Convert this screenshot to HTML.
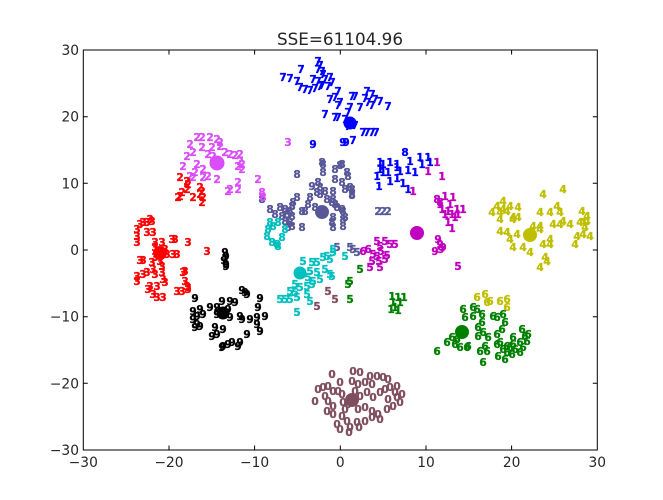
<!DOCTYPE html>
<html><head><meta charset="utf-8"><style>
html,body{margin:0;padding:0;background:#fff;}
svg{display:block;}
.t{font-family:"DejaVu Sans","Liberation Sans",sans-serif;}
.d text{font-family:"DejaVu Sans","Liberation Sans",sans-serif;font-weight:bold;font-size:10.5px;text-anchor:middle;dominant-baseline:central;stroke-width:0.35;}
.tk text{font-family:"DejaVu Sans","Liberation Sans",sans-serif;font-size:13.8px;fill:#262626;}
</style></head><body>
<svg width="663" height="500" viewBox="0 0 663 500" xmlns="http://www.w3.org/2000/svg">
<rect width="663" height="500" fill="#fff"/>
<text class="t" x="340" y="45" font-size="16.8" text-anchor="middle" fill="#262626">SSE=61104.96</text>

<!-- blue 7 / 1 -->
<g class="d" fill="#0000ff" stroke="#0000ff">
<circle cx="350" cy="123" r="6"/>
<text x="301" y="70">7</text><text x="318" y="62">7</text><text x="320" y="66">7</text><text x="318" y="70">7</text><text x="322" y="72">7</text><text x="323" y="75">7</text>
<text x="283" y="78">7</text><text x="290" y="79">7</text><text x="297" y="82">7</text><text x="300" y="88">7</text><text x="305" y="90">7</text><text x="310" y="91">7</text><text x="315" y="89">7</text><text x="320" y="87">7</text>
<text x="313" y="80">7</text><text x="318" y="82">7</text><text x="325" y="80">7</text><text x="330" y="78">7</text><text x="332" y="83">7</text><text x="328" y="87">7</text><text x="322" y="86">7</text>
<text x="338" y="92">7</text><text x="330" y="100">7</text><text x="335" y="98">7</text><text x="340" y="103">7</text><text x="338" y="106">7</text><text x="352" y="97">7</text><text x="355" y="97">7</text>
<text x="367" y="92">7</text><text x="372" y="95">7</text><text x="365" y="99">7</text><text x="375" y="100">7</text><text x="368" y="103">7</text><text x="380" y="102">7</text><text x="372" y="106">7</text><text x="388" y="107">7</text>
<text x="350" y="108">7</text><text x="360" y="108">7</text><text x="348" y="113">7</text><text x="325" y="115">7</text><text x="335" y="118">7</text><text x="338" y="118">7</text>
<text x="345" y="120">7</text><text x="355" y="126">7</text><text x="348" y="127">7</text>
<text x="363" y="133">7</text><text x="367" y="133">7</text><text x="372" y="133">7</text><text x="376" y="133">7</text>
<text x="313" y="145">9</text><text x="343" y="143">9</text><text x="346" y="143">9</text><text x="353" y="141">7</text>
<text x="405" y="153">8</text>
<text x="380" y="163">1</text><text x="390" y="163">1</text><text x="397" y="165">1</text><text x="410" y="162">1</text><text x="420" y="158">1</text><text x="428" y="158">1</text>
<text x="380" y="170">1</text><text x="383" y="173">1</text><text x="388" y="173">1</text><text x="397" y="168">1</text><text x="408" y="171">1</text><text x="415" y="173">1</text>
<text x="377" y="177">1</text><text x="390" y="182">1</text><text x="397" y="179">1</text><text x="403" y="184">1</text><text x="408" y="190">1</text><text x="379" y="187">1</text>
<text x="422" y="165">1</text><text x="430" y="163">1</text><text x="383" y="165">1</text><text x="400" y="172">1</text>
</g>

<!-- magenta -->
<g class="d" fill="#bf00bf" stroke="#bf00bf">
<circle cx="417" cy="233" r="6.5"/>
<text x="437" y="163">1</text><text x="428" y="172">1</text><text x="442" y="177">1</text><text x="413" y="192">1</text>
<text x="437" y="200">8</text><text x="445" y="197">1</text><text x="453" y="198">1</text><text x="440" y="205">1</text><text x="450" y="205">1</text><text x="442" y="210">1</text>
<text x="448" y="212">1</text><text x="457" y="210">1</text><text x="463" y="210">1</text><text x="445" y="215">1</text><text x="455" y="218">1</text><text x="448" y="223">1</text><text x="452" y="229">1</text>
<text x="440" y="203">8</text><text x="452" y="215">1</text><text x="458" y="215">1</text>
<text x="438" y="240">9</text><text x="440" y="245">9</text><text x="441" y="250">9</text><text x="435" y="252">9</text><text x="443" y="248">9</text>
<text x="458" y="267">5</text>
<text x="377" y="242">5</text><text x="385" y="242">5</text><text x="390" y="245">5</text><text x="395" y="245">5</text><text x="380" y="247">5</text>
<text x="363" y="252">6</text><text x="368" y="250">6</text><text x="373" y="255">5</text><text x="381" y="252">5</text><text x="387" y="256">5</text>
<text x="372" y="262">5</text><text x="379" y="262">5</text><text x="385" y="260">5</text><text x="370" y="268">5</text><text x="380" y="268">5</text><text x="377" y="257">5</text>
</g>

<!-- slate 8 -->
<g class="d" fill="#585898" stroke="#585898">
<text x="297" y="175">8</text><text x="323" y="173">8</text><text x="322" y="163">8</text><text x="323" y="165">8</text><text x="335" y="170">8</text><text x="347" y="173">8</text><text x="348" y="177">8</text>
<text x="342" y="165">8</text><text x="340" y="166">8</text><text x="335" y="180">8</text><text x="342" y="183">8</text><text x="312" y="187">9</text><text x="318" y="183">8</text><text x="320" y="188">8</text>
<text x="325" y="192">8</text><text x="333" y="192">8</text><text x="345" y="190">8</text><text x="352" y="190">8</text><text x="352" y="195">8</text><text x="317" y="193">8</text><text x="320" y="195">8</text>
<text x="297" y="198">8</text><text x="310" y="198">8</text><text x="327" y="200">8</text><text x="333" y="200">8</text><text x="293" y="203">8</text><text x="292" y="207">8</text><text x="308" y="205">8</text>
<text x="302" y="212">8</text><text x="305" y="212">8</text><text x="315" y="208">8</text><text x="332" y="203">8</text><text x="335" y="205">8</text><text x="337" y="208">8</text><text x="342" y="210">8</text>
<text x="345" y="218">8</text><text x="333" y="218">8</text><text x="332" y="223">8</text><text x="343" y="227">8</text><text x="333" y="228">8</text><text x="302" y="228">8</text>
<text x="270" y="210">8</text><text x="280" y="208">8</text><text x="285" y="210">8</text><text x="290" y="212">8</text><text x="275" y="215">8</text><text x="282" y="217">8</text><text x="287" y="215">8</text><text x="292" y="217">8</text>
<text x="285" y="222">8</text><text x="290" y="223">8</text><text x="288" y="228">8</text><text x="292" y="227">8</text><text x="262" y="200">8</text>
<text x="343" y="212">8</text><text x="343" y="220">8</text><text x="350" y="188">8</text><text x="352" y="196">8</text>
<circle cx="322" cy="212" r="6.5"/>
<text x="378" y="212">2</text><text x="383" y="212">2</text><text x="388" y="212">2</text>
<text x="337" y="248">5</text><text x="350" y="248">5</text><text x="353" y="250">5</text><text x="357" y="253">5</text>
</g>

<!-- pink 2 -->
<g class="d" fill="#da4dfa" stroke="#da4dfa">
<circle cx="217" cy="163" r="7"/>
<text x="197" y="138">2</text><text x="202" y="138">2</text><text x="210" y="138">2</text><text x="217" y="140">2</text><text x="220" y="143">2</text><text x="190" y="145">2</text>
<text x="202" y="148">2</text><text x="212" y="148">2</text><text x="220" y="147">2</text><text x="187" y="157">2</text><text x="193" y="153">2</text><text x="208" y="155">2</text><text x="213" y="157">2</text>
<text x="225" y="153">2</text><text x="230" y="155">2</text><text x="235" y="156">2</text><text x="240" y="155">2</text><text x="240" y="162">2</text><text x="242" y="165">2</text><text x="238" y="167">2</text><text x="242" y="170">2</text>
<text x="183" y="167">2</text><text x="197" y="165">2</text><text x="203" y="170">2</text><text x="195" y="173">2</text><text x="208" y="177">2</text><text x="203" y="178">2</text><text x="190" y="177">2</text><text x="193" y="178">2</text>
<text x="217" y="180">2</text><text x="238" y="183">2</text><text x="228" y="192">2</text><text x="238" y="190">2</text><text x="230" y="190">2</text><text x="258" y="180">2</text>
<text x="262" y="193">8</text><text x="263" y="198">8</text><text x="288" y="143">3</text>
</g>

<!-- red -->
<g class="d" fill="#ff0000" stroke="#ff0000">
<circle cx="160" cy="253" r="6.5"/>
<text x="180" y="178">2</text><text x="187" y="182">2</text><text x="188" y="185">2</text><text x="187" y="190">2</text><text x="182" y="193">2</text><text x="180" y="197">2</text><text x="178" y="198">2</text>
<text x="200" y="188">2</text><text x="202" y="192">2</text><text x="200" y="195">2</text><text x="203" y="198">2</text><text x="202" y="203">2</text><text x="193" y="198">2</text>
<text x="150" y="220">3</text><text x="143" y="223">3</text><text x="137" y="230">3</text><text x="140" y="225">3</text><text x="147" y="223">3</text><text x="152" y="222">3</text>
<text x="137" y="237">3</text><text x="137" y="243">3</text><text x="147" y="233">3</text><text x="153" y="233">3</text><text x="155" y="243">3</text><text x="162" y="243">3</text>
<text x="172" y="240">3</text><text x="175" y="240">3</text><text x="188" y="243">3</text><text x="207" y="252">3</text>
<text x="167" y="255">3</text><text x="173" y="255">3</text><text x="177" y="255">3</text><text x="155" y="248">3</text><text x="152" y="263">3</text>
<text x="140" y="261">3</text><text x="143" y="261">3</text><text x="160" y="262">3</text><text x="162" y="267">3</text><text x="153" y="270">3</text><text x="155" y="275">3</text><text x="162" y="273">3</text>
<text x="147" y="273">3</text><text x="143" y="275">3</text><text x="137" y="277">3</text><text x="137" y="282">3</text><text x="163" y="280">3</text><text x="165" y="283">3</text>
<text x="150" y="287">3</text><text x="157" y="287">3</text><text x="148" y="290">3</text><text x="153" y="295">3</text><text x="157" y="298">3</text><text x="163" y="298">3</text>
<text x="185" y="272">3</text><text x="185" y="282">3</text><text x="187" y="287">3</text><text x="188" y="288">3</text><text x="177" y="292">3</text><text x="182" y="292">3</text><text x="188" y="290">3</text><text x="183" y="273">3</text>
<text x="155" y="258">3</text><text x="165" y="250">3</text>
</g>

<!-- black 9 -->
<g class="d" fill="#000000" stroke="#000000">
<circle cx="223" cy="313" r="6"/>
<text x="225" y="253">9</text><text x="226" y="257">9</text><text x="224" y="261">9</text><text x="226" y="265">9</text><text x="226" y="267">9</text>
<text x="195" y="299">9</text><text x="242" y="291">9</text><text x="245" y="293">9</text><text x="247" y="295">9</text><text x="260" y="299">9</text>
<text x="210" y="308">9</text><text x="217" y="308">9</text><text x="222" y="302">9</text><text x="230" y="302">9</text><text x="235" y="303">9</text>
<text x="193" y="312">9</text><text x="197" y="317">9</text><text x="203" y="315">9</text><text x="200" y="310">9</text><text x="193" y="320">9</text><text x="197" y="325">9</text><text x="200" y="327">9</text><text x="195" y="328">9</text>
<text x="217" y="315">9</text><text x="230" y="318">9</text><text x="240" y="317">9</text><text x="242" y="320">9</text><text x="250" y="320">9</text><text x="257" y="318">9</text><text x="258" y="308">9</text><text x="265" y="317">9</text>
<text x="257" y="325">9</text><text x="260" y="332">9</text><text x="215" y="328">9</text><text x="223" y="330">9</text><text x="212" y="337">9</text><text x="217" y="335">9</text><text x="247" y="335">9</text>
<text x="223" y="347">9</text><text x="228" y="345">9</text><text x="232" y="343">9</text><text x="240" y="343">9</text><text x="238" y="347">9</text><text x="222" y="348">9</text>
<text x="218" y="312">9</text><text x="228" y="310">9</text>
</g>

<!-- cyan -->
<g class="d" fill="#00bfbf" stroke="#00bfbf">
<circle cx="300" cy="273" r="6"/>
<text x="270" y="223">8</text><text x="268" y="230">8</text><text x="267" y="237">8</text><text x="272" y="243">8</text><text x="277" y="245">8</text><text x="278" y="247">8</text><text x="282" y="238">8</text><text x="285" y="230">8</text><text x="273" y="227">8</text><text x="278" y="223">8</text>
<text x="303" y="262">5</text><text x="312" y="263">5</text><text x="317" y="263">5</text><text x="323" y="258">5</text><text x="327" y="257">5</text><text x="330" y="260">5</text><text x="333" y="253">5</text>
<text x="310" y="272">5</text><text x="317" y="273">5</text><text x="325" y="270">5</text><text x="330" y="275">5</text><text x="308" y="278">5</text><text x="313" y="282">5</text><text x="320" y="280">5</text>
<text x="295" y="285">5</text><text x="300" y="288">5</text><text x="307" y="287">5</text><text x="312" y="285">5</text><text x="290" y="292">5</text><text x="295" y="293">5</text>
<text x="280" y="300">5</text><text x="285" y="300">5</text><text x="290" y="300">5</text><text x="297" y="298">5</text><text x="307" y="295">5</text><text x="310" y="302">5</text><text x="297" y="313">5</text>
<text x="333" y="250">5</text><text x="345" y="257">5</text><text x="332" y="277">5</text>
</g>

<!-- brown 0 -->
<g class="d" fill="#7f4f60" stroke="#7f4f60">
<circle cx="352" cy="400" r="6.5"/>
<text x="328" y="292">5</text><text x="335" y="300">5</text><text x="317" y="307">5</text>
<text x="332" y="375">0</text><text x="353" y="372">0</text><text x="360" y="373">0</text><text x="370" y="377">0</text><text x="377" y="377">0</text><text x="383" y="378">0</text><text x="388" y="380">0</text>
<text x="397" y="387">0</text><text x="395" y="393">0</text><text x="352" y="382">0</text><text x="358" y="385">0</text><text x="365" y="383">0</text><text x="372" y="385">0</text>
<text x="340" y="383">0</text><text x="338" y="392">0</text><text x="318" y="390">0</text><text x="323" y="388">0</text><text x="328" y="387">0</text><text x="333" y="392">0</text><text x="315" y="402">0</text>
<text x="325" y="397">0</text><text x="328" y="402">0</text><text x="333" y="407">0</text><text x="327" y="412">0</text><text x="342" y="395">0</text><text x="343" y="403">0</text><text x="345" y="410">0</text>
<text x="360" y="397">0</text><text x="367" y="393">0</text><text x="373" y="398">0</text><text x="380" y="393">0</text><text x="385" y="390">0</text><text x="390" y="388">0</text><text x="388" y="400">0</text><text x="397" y="398">0</text><text x="393" y="407">0</text><text x="387" y="410">0</text>
<text x="358" y="410">0</text><text x="365" y="408">0</text><text x="372" y="412">0</text><text x="378" y="415">0</text><text x="333" y="415">0</text><text x="342" y="417">0</text><text x="347" y="422">0</text><text x="337" y="425">0</text>
<text x="350" y="428">0</text><text x="357" y="423">0</text><text x="365" y="422">0</text><text x="372" y="418">0</text><text x="380" y="420">0</text><text x="340" y="430">0</text><text x="349" y="433">0</text><text x="359" y="428">0</text>
<text x="402" y="395">0</text><text x="400" y="403">0</text><text x="355" y="392">0</text><text x="348" y="405">0</text>
</g>

<!-- yellow 4 -->
<g class="d" fill="#bfbf00" stroke="#bfbf00">
<circle cx="530" cy="235" r="6.5"/>
<text x="543" y="195">4</text><text x="563" y="190">4</text><text x="557" y="207">4</text><text x="540" y="213">4</text><text x="550" y="213">4</text><text x="560" y="213">4</text><text x="582" y="212">4</text><text x="587" y="217">4</text>
<text x="497" y="207">4</text><text x="503" y="202">4</text><text x="510" y="207">4</text><text x="518" y="208">4</text><text x="492" y="213">4</text><text x="500" y="213">4</text><text x="507" y="212">4</text><text x="513" y="218">4</text><text x="518" y="218">4</text>
<text x="533" y="227">4</text><text x="540" y="227">4</text><text x="553" y="225">4</text><text x="563" y="222">4</text><text x="570" y="225">4</text><text x="580" y="223">4</text><text x="587" y="222">4</text>
<text x="500" y="220">4</text><text x="513" y="220">4</text><text x="560" y="225">4</text><text x="583" y="223">4</text><text x="500" y="232">4</text><text x="507" y="233">4</text><text x="517" y="235">4</text><text x="540" y="230">4</text>
<text x="510" y="240">4</text><text x="513" y="248">4</text><text x="523" y="248">4</text><text x="530" y="253">4</text><text x="543" y="245">4</text><text x="550" y="245">4</text><text x="550" y="240">4</text>
<text x="577" y="237">4</text><text x="583" y="235">4</text><text x="590" y="237">4</text><text x="575" y="245">4</text><text x="545" y="258">4</text><text x="547" y="262">4</text><text x="540" y="268">4</text>
<text x="503" y="210">4</text><text x="585" y="228">4</text>
<text x="477" y="298">6</text><text x="485" y="295">6</text><text x="487" y="303">6</text><text x="490" y="302">6</text><text x="500" y="302">6</text><text x="507" y="300">6</text><text x="507" y="308">6</text>
</g>

<!-- green -->
<g class="d" fill="#008000" stroke="#008000">
<circle cx="462" cy="332" r="6.5"/>
<text x="360" y="270">5</text><text x="348" y="285">5</text><text x="350" y="282">5</text><text x="350" y="300">5</text>
<text x="392" y="297">1</text><text x="398" y="298">1</text><text x="404" y="298">1</text><text x="393" y="303">1</text><text x="400" y="303">1</text><text x="395" y="308">1</text><text x="391" y="310">1</text><text x="398" y="311">1</text>
<text x="463" y="310">6</text><text x="465" y="318">6</text><text x="473" y="308">6</text><text x="477" y="310">6</text><text x="473" y="317">6</text><text x="482" y="315">6</text><text x="493" y="317">6</text><text x="497" y="318">6</text>
<text x="503" y="315">6</text><text x="505" y="323">6</text><text x="482" y="323">6</text><text x="478" y="328">6</text><text x="483" y="333">6</text><text x="478" y="337">6</text><text x="488" y="338">6</text><text x="497" y="335">6</text><text x="502" y="330">6</text>
<text x="522" y="330">6</text><text x="525" y="337">6</text><text x="528" y="335">6</text><text x="513" y="338">6</text><text x="452" y="338">6</text><text x="447" y="343">6</text><text x="455" y="345">6</text><text x="460" y="348">6</text><text x="467" y="348">6</text><text x="468" y="347">6</text>
<text x="457" y="340">6</text><text x="437" y="352">6</text><text x="485" y="347">6</text><text x="497" y="345">6</text><text x="500" y="343">6</text><text x="507" y="347">6</text><text x="510" y="348">6</text>
<text x="513" y="345">6</text><text x="520" y="343">6</text><text x="523" y="348">6</text><text x="527" y="342">6</text><text x="480" y="352">6</text><text x="487" y="352">6</text><text x="498" y="357">6</text><text x="505" y="360">6</text><text x="483" y="363">6</text>
<text x="507" y="353">6</text><text x="512" y="355">6</text><text x="520" y="353">6</text><text x="515" y="350">6</text><text x="503" y="350">6</text>
</g>

<!-- axes -->
<rect x="83.3" y="50" width="514" height="400" fill="none" stroke="#000" stroke-width="1"/>
<g stroke="#000" stroke-width="1">
<path d="M169,450v-4.5M254.6,450v-4.5M340.3,450v-4.5M426,450v-4.5M511.6,450v-4.5M169,50v4.5M254.6,50v4.5M340.3,50v4.5M426,50v4.5M511.6,50v4.5"/>
<path d="M83.3,116.7h4.5M83.3,183.3h4.5M83.3,250h4.5M83.3,316.7h4.5M83.3,383.3h4.5M597.3,116.7h-4.5M597.3,183.3h-4.5M597.3,250h-4.5M597.3,316.7h-4.5M597.3,383.3h-4.5"/>
</g>
<g class="tk" text-anchor="middle">
<text x="83.3" y="467">−30</text><text x="169" y="467">−20</text><text x="254.6" y="467">−10</text><text x="340.3" y="467">0</text><text x="426" y="467">10</text><text x="511.6" y="467">20</text><text x="597.3" y="467">30</text>
</g>
<g class="tk" text-anchor="end">
<text x="79" y="55">30</text><text x="79" y="121.7">20</text><text x="79" y="188.3">10</text><text x="79" y="255">0</text><text x="79" y="321.7">−10</text><text x="79" y="388.3">−20</text><text x="79" y="455">−30</text>
</g>
</svg>
</body></html>
